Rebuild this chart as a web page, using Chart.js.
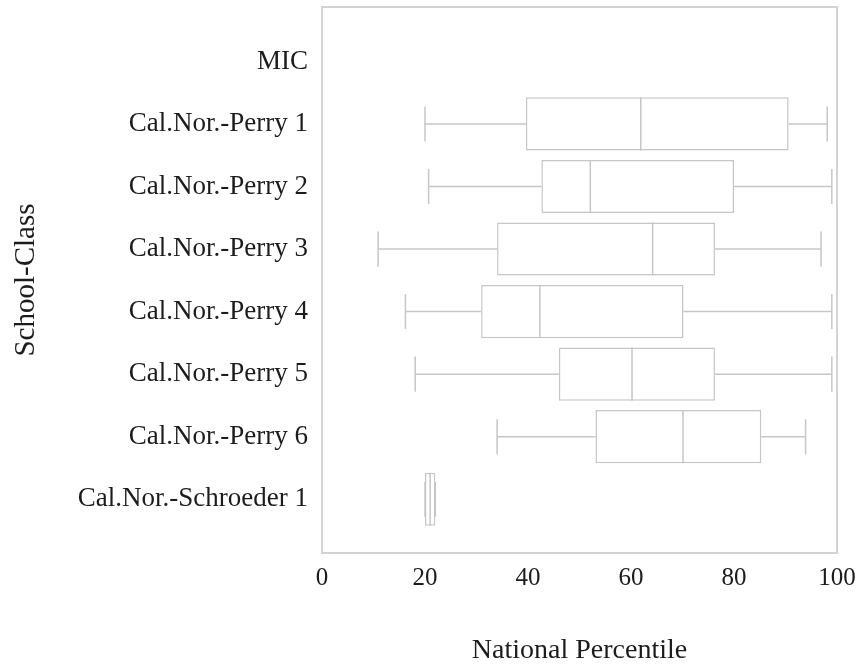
<!DOCTYPE html>
<html>
<head>
<meta charset="utf-8">
<title>National Percentile by School-Class</title>
<script src="https://cdn.jsdelivr.net/npm/chart.js@4.4.1/dist/chart.umd.min.js"></script>
<style>
  html, body { margin: 0; padding: 0; background: #fff; }
  #wrap { width: 861px; height: 668px; }
</style>
</head>
<body>
<div id="wrap"><canvas id="boxChart"></canvas></div>
<script>
// Rows, top to bottom (MIC has no data)
const categories = [
  'MIC',
  'Cal.Nor.-Perry 1',
  'Cal.Nor.-Perry 2',
  'Cal.Nor.-Perry 3',
  'Cal.Nor.-Perry 4',
  'Cal.Nor.-Perry 5',
  'Cal.Nor.-Perry 6',
  'Cal.Nor.-Schroeder 1'
];
const mins    = [null, 20.0, 20.7, 10.9, 16.2, 18.1, 34.0, 20.0];
const q1s     = [null, 39.6, 42.6, 34.0, 30.9, 46.0, 53.1, 20.0];
const medians = [null, 61.9, 52.1, 64.2, 42.3, 60.2, 70.1, 21.0];
const q3s     = [null, 90.6, 80.0, 76.3, 70.2, 76.3, 85.3, 22.0];
const maxs    = [null, 98.1, 99.0, 96.9, 99.0, 99.0, 93.9, 22.0];
const xTicks  = [0, 20, 40, 60, 80, 100];

(function() {
    'use strict';

    const lineColor = '#c6c6c6';
    const textColor = '#1c1c1c';
    const serif = '"Liberation Serif", "Times New Roman", serif';
    const boxHalf = 0.425;   // half box height, in row units
    const capHalf = 0.28;    // half whisker cap length, in row units

    // rows sit at 1..n on a linear axis so the frame keeps its margin
    const boxData = [];
    const lineData = [];
    categories.forEach(function(name, i) {
        if (medians[i] === null) return;
        const y = i + 1;
        boxData.push({ y: y, x: [q1s[i], q3s[i]] });
        lineData.push(
            { x: mins[i], y: y }, { x: q1s[i], y: y }, { x: null, y: null },
            { x: q3s[i], y: y }, { x: maxs[i], y: y }, { x: null, y: null },
            { x: mins[i], y: y - capHalf }, { x: mins[i], y: y + capHalf }, { x: null, y: null },
            { x: maxs[i], y: y - capHalf }, { x: maxs[i], y: y + capHalf }, { x: null, y: null },
            { x: medians[i], y: y - boxHalf }, { x: medians[i], y: y + boxHalf }, { x: null, y: null }
        );
    });

    // light frame round the plot area
    const framePlugin = {
        id: 'frame',
        afterDraw(chart) {
            const a = chart.chartArea;
            const ctx = chart.ctx;
            ctx.save();
            ctx.strokeStyle = '#d3d3d3';
            ctx.lineWidth = 2;
            ctx.strokeRect(a.left, a.top, a.right - a.left, a.bottom - a.top);
            ctx.restore();
        }
    };

    // keep the layout padding in charge of the plot edges
    function noLabelPadding(scale) {
        scale.paddingTop = 0;
        scale.paddingBottom = 0;
        scale.paddingLeft = 0;
        scale.paddingRight = 0;
    }

    const ctx = document.getElementById('boxChart').getContext('2d');
    new Chart(ctx, {
        type: 'bar',
        data: {
            datasets: [{
                type: 'bar',
                data: boxData,
                backgroundColor: '#ffffff',
                borderColor: lineColor,
                borderWidth: 1.5,
                borderSkipped: false,
                barPercentage: boxHalf * 2,
                categoryPercentage: 1,
                order: 2
            }, {
                type: 'line',
                data: lineData,
                borderColor: lineColor,
                borderWidth: 1.5,
                pointRadius: 0,
                pointHoverRadius: 0,
                fill: false,
                spanGaps: false,
                tension: 0,
                order: 1
            }]
        },
        options: {
            indexAxis: 'y',
            responsive: true,
            maintainAspectRatio: false,
            animation: false,
            layout: {
                padding: { top: 7, right: 24, bottom: 0, left: 0 }
            },
            plugins: {
                legend: { display: false },
                tooltip: { enabled: false }
            },
            scales: {
                x: {
                    type: 'linear',
                    position: 'bottom',
                    min: 0,
                    max: 100,
                    offset: false,
                    afterBuildTicks: function(scale) {
                        scale.ticks = xTicks.map(function(v) { return { value: v }; });
                    },
                    afterFit: function(scale) {
                        scale.height = 115;
                        noLabelPadding(scale);
                    },
                    grid: { display: false, drawTicks: false },
                    border: { display: false },
                    ticks: {
                        padding: 10,
                        color: textColor,
                        font: { family: serif, size: 25 }
                    },
                    title: {
                        display: true,
                        text: 'National Percentile',
                        color: textColor,
                        font: { family: serif, size: 28 },
                        padding: { top: 0, bottom: 1 }
                    }
                },
                y: {
                    type: 'linear',
                    reverse: true,
                    min: 0.13,
                    max: 8.86,
                    offset: false,
                    afterBuildTicks: function(scale) {
                        scale.ticks = categories.map(function(c, i) { return { value: i + 1 }; });
                    },
                    afterFit: function(scale) {
                        scale.width = 322;
                        noLabelPadding(scale);
                    },
                    grid: { display: false, drawTicks: false },
                    border: { display: false },
                    ticks: {
                        padding: 14,
                        autoSkip: false,
                        color: textColor,
                        font: { family: serif, size: 27 },
                        callback: function(value) { return categories[value - 1] || ''; }
                    },
                    title: {
                        display: true,
                        text: 'School-Class',
                        color: textColor,
                        font: { family: serif, size: 29 },
                        padding: { top: 9, bottom: 0 }
                    }
                }
            }
        },
        plugins: [framePlugin]
    });
})();
</script>
</body>
</html>
